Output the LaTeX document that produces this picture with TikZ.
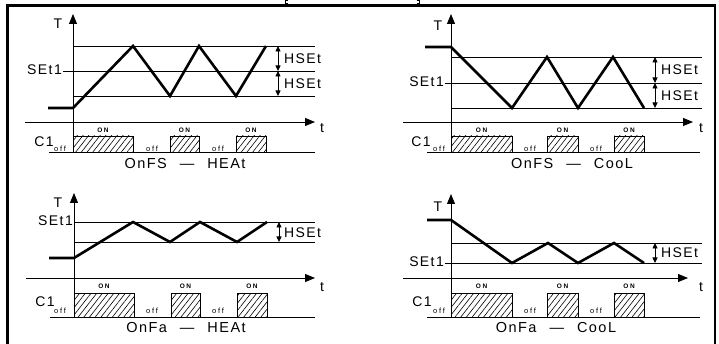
\documentclass[tikz,border=0pt]{standalone}
\usepackage{fontspec}
\setmainfont{Liberation Sans}
\newfontfamily\cadfont[LetterSpace=10]{Liberation Sans}
\newfontfamily\tinyfont[LetterSpace=25]{Liberation Sans}
\usetikzlibrary{arrows.meta,patterns.meta}
\begin{document}
\begin{tikzpicture}[x=1pt,y=-1pt,
  thinln/.style={line width=0.8pt},
  sig/.style={line width=2.6pt,line join=miter},
  axis/.style={line width=0.9pt,-{Triangle[length=10pt,width=8pt]}},
  dim/.style={line width=0.8pt,{Triangle[length=5.5pt,width=5pt]}-{Triangle[length=5.5pt,width=5pt]}},
  onbox/.style={draw,line width=0.8pt,pattern={Lines[angle=52,distance=4.5pt,line width=0.6pt]}},
  big/.style={font=\cadfont\fontsize{14}{14}\selectfont,inner sep=0pt},
  ttl/.style={font=\cadfont\fontsize{14.5}{14.5}\selectfont,inner sep=0pt},
  onlbl/.style={font=\tinyfont\bfseries\fontsize{6.5}{6.5}\selectfont,inner sep=0pt},
  offlbl/.style={font=\tinyfont\fontsize{7.5}{7.5}\selectfont,inner sep=0pt},
  frame/.style={line width=2.2pt}]
\useasboundingbox (0,0) rectangle (719,344);
% outer frame
\draw[frame] (7.5,344) -- (7.5,5.5) -- (715,5.5) -- (715,344);
\draw[line width=0.8pt] (287.5,0) -- (285,0) -- (285,3.5) -- (287.5,3.5);
\draw[line width=0.8pt] (416.5,0) -- (419,0) -- (419,3.5) -- (416.5,3.5);

% ===== Top-left: OnFS - HEAt =====
\draw[axis] (73,152) -- (73,14);
\node[big] (tlT) at (58,24) {T};
\draw[thinln] (73,46) -- (315,46);
\draw[thinln] (63,71) -- (315,71);
\draw[thinln] (73,96) -- (315,96);
\node[big,anchor=east] (tlS) at (62,70) {SEt1};
\draw[sig] (48,108) -- (73,108) -- (133,46) -- (170,96) -- (199,46) -- (236,96) -- (266,46);
\draw[dim] (278,46) -- (278,71);
\draw[dim] (278,71) -- (278,96);
\node[big,anchor=west] (tlH1) at (284,59) {HSEt};
\node[big,anchor=west] (tlH2) at (284,84) {HSEt};
\draw[axis] (25,122) -- (315,122);
\node[big] (tlt) at (322,128) {t};
\draw[onbox] (73,136) rectangle (133,152);
\draw[onbox] (170,136) rectangle (199,152);
\draw[onbox] (236,136) rectangle (266,152);
\draw[thinln] (49,152) -- (315,152);
\node[onlbl] (tlon1) at (103,130.5) {ON};
\node[onlbl] (tlon2) at (184.5,130.5) {ON};
\node[onlbl] (tlon3) at (251,130.5) {ON};
\node[offlbl] (tloff1) at (60,148.5) {off};
\node[offlbl] (tloff2) at (152,148.5) {off};
\node[offlbl] (tloff3) at (218,148.5) {off};
\node[big] (tlC) at (44,142) {C1};
\node[ttl] (tltitle) at (185,164) {OnFS\hspace{13pt}—\hspace{13pt}HEAt};

% ===== Top-right: OnFS - CooL =====
\draw[axis] (451,152) -- (451,14);
\node[big] (trT) at (438,26) {T};
\draw[thinln] (451,57) -- (702,57);
\draw[thinln] (445,83) -- (702,83);
\draw[thinln] (451,108) -- (702,108);
\node[big,anchor=east] (trS) at (444,82) {SEt1};
\draw[sig] (425,47) -- (451,47) -- (512,108) -- (547,57) -- (578,108) -- (613,57) -- (644,108);
\draw[dim] (655,57) -- (655,83);
\draw[dim] (655,83) -- (655,108);
\node[big,anchor=west] (trH1) at (661,70) {HSEt};
\node[big,anchor=west] (trH2) at (661,96) {HSEt};
\draw[axis] (403,122) -- (693,122);
\node[big] (trt) at (701,128) {t};
\draw[onbox] (451,136) rectangle (512,152);
\draw[onbox] (547,136) rectangle (578,152);
\draw[onbox] (614,136) rectangle (644,152);
\draw[thinln] (427,152) -- (700,152);
\node[onlbl] (tron1) at (481.5,130.5) {ON};
\node[onlbl] (tron2) at (562.5,130.5) {ON};
\node[onlbl] (tron3) at (629,130.5) {ON};
\node[offlbl] (troff1) at (439,148.5) {off};
\node[offlbl] (troff2) at (530,148.5) {off};
\node[offlbl] (troff3) at (596,148.5) {off};
\node[big] (trC) at (421,142) {C1};
\node[ttl] (trtitle) at (572,164) {OnFS\hspace{13pt}—\hspace{13pt}CooL};

% ===== Bottom-left: OnFa - HEAt =====
\draw[axis] (74,317) -- (74,193);
\node[big] (blT) at (58,203) {T};
\draw[thinln] (74,222) -- (315,222);
\draw[thinln] (74,242) -- (315,242);
\node[big,anchor=east] (blS) at (73,221) {SEt1};
\draw[sig] (49,258) -- (74,258) -- (133,222) -- (170,242) -- (200,222) -- (237,242) -- (267,222);
\draw[dim] (279,222) -- (279,242);
\node[big,anchor=west] (blH) at (284,233) {HSEt};
\draw[axis] (26,278) -- (315,278);
\node[big] (blt) at (322,287) {t};
\draw[onbox] (74,293) rectangle (134,317);
\draw[onbox] (171,293) rectangle (200,317);
\draw[onbox] (237,293) rectangle (267,317);
\draw[thinln] (50,317) -- (315,317);
\node[onlbl] (blon1) at (104,286) {ON};
\node[onlbl] (blon2) at (185.5,286) {ON};
\node[onlbl] (blon3) at (252,286) {ON};
\node[offlbl] (bloff1) at (60,311) {off};
\node[offlbl] (bloff2) at (152,311) {off};
\node[offlbl] (bloff3) at (218,311) {off};
\node[big] (blC) at (45,302) {C1};
\node[ttl] (bltitle) at (186,328) {OnFa\hspace{13pt}—\hspace{13pt}HEAt};

% ===== Bottom-right: OnFa - CooL =====
\draw[axis] (451,317) -- (451,194);
\node[big] (brT) at (438,207) {T};
\draw[thinln] (451,243) -- (702,243);
\draw[thinln] (445,263) -- (702,263);
\node[big,anchor=east] (brS) at (444,262) {SEt1};
\draw[sig] (427,220) -- (451,220) -- (512,263) -- (548,243) -- (578,263) -- (614,243) -- (644,263);
\draw[dim] (655,243) -- (655,263);
\node[big,anchor=west] (brH) at (661,253) {HSEt};
\draw[axis] (403,278) -- (688,278);
\node[big] (brt) at (701,287) {t};
\draw[onbox] (451,293) rectangle (512,317);
\draw[onbox] (547,293) rectangle (578,317);
\draw[onbox] (614,293) rectangle (644,317);
\draw[thinln] (427,317) -- (700,317);
\node[onlbl] (bron1) at (481.5,286) {ON};
\node[onlbl] (bron2) at (562.5,286) {ON};
\node[onlbl] (bron3) at (629,286) {ON};
\node[offlbl] (broff1) at (439,311) {off};
\node[offlbl] (broff2) at (530,311) {off};
\node[offlbl] (broff3) at (596,311) {off};
\node[big] (brC) at (422,302) {C1};
\node[ttl] (brtitle) at (556,328) {OnFa\hspace{13pt}—\hspace{13pt}CooL};
\end{tikzpicture}
\end{document}
